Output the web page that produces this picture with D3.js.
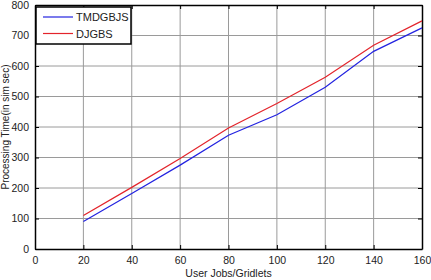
<!DOCTYPE html>
<html>
<head>
<meta charset="utf-8">
<script src="https://cdn.jsdelivr.net/npm/d3@7"></script>
<style>
  html, body { margin: 0; padding: 0; background: #fff; }
  svg text { font-family: "Liberation Sans", Arial, sans-serif; fill: #222; }
</style>
</head>
<body>
<div id="chart"></div>
<script>
// processing time vs jumlah user jobs
const jobs     = [20, 40, 60, 80, 100, 120, 140, 160];
const tmdgbjs  = [90, 182, 275, 373, 440, 530, 648, 725];
const djgbs    = [110, 202, 297, 397, 477, 563, 668, 748];
const xTicks   = [0, 20, 40, 60, 80, 100, 120, 140, 160];
const yTicks   = [0, 100, 200, 300, 400, 500, 600, 700, 800];

const series = [
  { name: "TMDGBJS", values: tmdgbjs, color: "#2323e0" },
  { name: "DJGBS",   values: djgbs,   color: "#e3242b" }
];

const W = 431, H = 280;
const margin = { top: 5, right: 9, bottom: 31, left: 35 };
const width  = W - margin.left - margin.right;
const height = H - margin.top - margin.bottom;

const svg = d3.select("#chart").append("svg")
  .attr("width", W).attr("height", H)
  .append("g")
  .attr("transform", `translate(${margin.left},${margin.top})`);

const x = d3.scaleLinear().domain([0, 160]).range([0, width]);
const y = d3.scaleLinear().domain([0, 800]).range([height, 0]);

// grid
svg.append("g").selectAll("line.gx")
  .data(xTicks.slice(1, -1)).enter().append("line")
  .attr("x1", d => x(d)).attr("x2", d => x(d))
  .attr("y1", 0).attr("y2", height)
  .attr("stroke", "#9a9a9a").attr("stroke-width", 1);

svg.append("g").selectAll("line.gy")
  .data(yTicks.slice(1, -1)).enter().append("line")
  .attr("y1", d => y(d)).attr("y2", d => y(d))
  .attr("x1", 0).attr("x2", width)
  .attr("stroke", "#9a9a9a").attr("stroke-width", 1);

// sumbu
const xAxis = svg.append("g")
  .attr("transform", `translate(0,${height})`)
  .call(d3.axisBottom(x).tickValues(xTicks).tickSizeInner(-4).tickSizeOuter(0).tickPadding(8));
const yAxis = svg.append("g")
  .call(d3.axisLeft(y).tickValues(yTicks).tickSizeInner(-4).tickSizeOuter(0).tickPadding(6));
const yAxisR = svg.append("g")
  .attr("transform", `translate(${width},0)`)
  .call(d3.axisRight(y).tickValues(yTicks).tickSizeInner(-4).tickSizeOuter(0).tickFormat(""));
const xAxisT = svg.append("g")
  .call(d3.axisTop(x).tickValues(xTicks).tickSizeInner(-4).tickSizeOuter(0).tickFormat(""));

[xAxis, yAxis, yAxisR, xAxisT].forEach(g => {
  g.select(".domain").attr("stroke", "#000").attr("stroke-width", 1.5);
  g.selectAll(".tick line").attr("stroke", "#000");
  g.selectAll("text").attr("font-size", "10.5px").attr("fill", "#222")
    .attr("font-family", "Liberation Sans, Arial, sans-serif");
});

// garis data
const line = d3.line()
  .x((d, i) => x(jobs[i]))
  .y(d => y(d));

series.forEach(s => {
  svg.append("path")
    .datum(s.values)
    .attr("fill", "none")
    .attr("stroke", s.color)
    .attr("stroke-width", 1.2)
    .attr("d", line);
});

// legend
const lg = svg.append("g").attr("transform", "translate(1,2)");
lg.append("rect")
  .attr("width", 95).attr("height", 37)
  .attr("fill", "#fff").attr("stroke", "#000").attr("stroke-width", 1.5);
series.forEach((s, i) => {
  const yy = 10 + i * 16.5;
  lg.append("line")
    .attr("x1", 7).attr("x2", 37).attr("y1", yy).attr("y2", yy)
    .attr("stroke", s.color).attr("stroke-width", 1.2);
  lg.append("text")
    .attr("x", 40).attr("y", yy + 4)
    .attr("font-size", "11px")
    .text(s.name);
});

// label sumbu
svg.append("text")
  .attr("x", width / 2).attr("y", height + 28)
  .attr("text-anchor", "middle")
  .attr("font-size", "10.5px")
  .text("User Jobs/Gridlets");

svg.append("text")
  .attr("transform", `translate(${-26},${height / 2}) rotate(-90)`)
  .attr("text-anchor", "middle")
  .attr("font-size", "10px")
  .text("Processing Time(in sim sec)");
</script>
</body>
</html>
